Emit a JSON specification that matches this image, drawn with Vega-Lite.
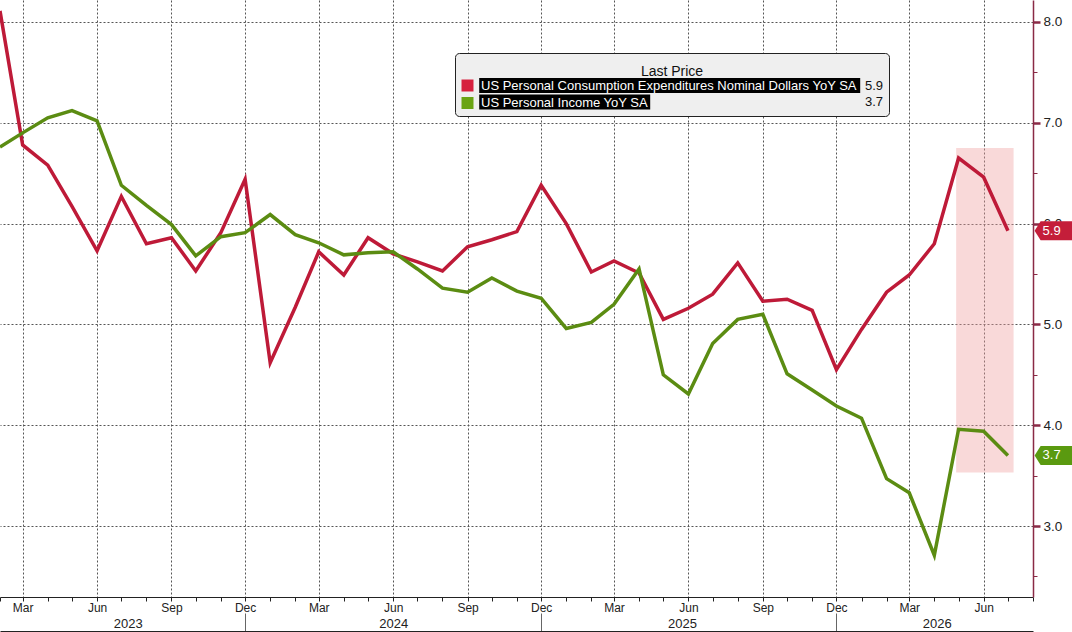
{
  "$schema": "https://vega.github.io/schema/vega-lite/v6.json",
  "width": 1033,
  "height": 597,
  "autosize": {"type": "none"},
  "padding": {"left": 0, "top": 0, "right": 39, "bottom": 35},
  "background": "white",
  "config": {"view": {"stroke": null}, "font": "Liberation Sans"},
  "datasets": {
    "main": [
      {"d": "2023/02/01", "s": "PCE", "v": 8.11}, {"d": "2023/03/01", "s": "PCE", "v": 6.78}, {"d": "2023/04/01", "s": "PCE", "v": 6.58}, {"d": "2023/05/01", "s": "PCE", "v": 6.17}, {"d": "2023/06/01", "s": "PCE", "v": 5.73}, {"d": "2023/07/01", "s": "PCE", "v": 6.27}, {"d": "2023/08/01", "s": "PCE", "v": 5.80}, {"d": "2023/09/01", "s": "PCE", "v": 5.86}, {"d": "2023/10/01", "s": "PCE", "v": 5.53}, {"d": "2023/11/01", "s": "PCE", "v": 5.91}, {"d": "2023/12/01", "s": "PCE", "v": 6.44},
      {"d": "2024/01/01", "s": "PCE", "v": 4.62}, {"d": "2024/02/01", "s": "PCE", "v": 5.17}, {"d": "2024/03/01", "s": "PCE", "v": 5.72}, {"d": "2024/04/01", "s": "PCE", "v": 5.49}, {"d": "2024/05/01", "s": "PCE", "v": 5.86}, {"d": "2024/06/01", "s": "PCE", "v": 5.70}, {"d": "2024/07/01", "s": "PCE", "v": 5.62}, {"d": "2024/08/01", "s": "PCE", "v": 5.53}, {"d": "2024/09/01", "s": "PCE", "v": 5.77}, {"d": "2024/10/01", "s": "PCE", "v": 5.84}, {"d": "2024/11/01", "s": "PCE", "v": 5.92}, {"d": "2024/12/01", "s": "PCE", "v": 6.38},
      {"d": "2025/01/01", "s": "PCE", "v": 6.00}, {"d": "2025/02/01", "s": "PCE", "v": 5.52}, {"d": "2025/03/01", "s": "PCE", "v": 5.63}, {"d": "2025/04/01", "s": "PCE", "v": 5.51}, {"d": "2025/05/01", "s": "PCE", "v": 5.05}, {"d": "2025/06/01", "s": "PCE", "v": 5.16}, {"d": "2025/07/01", "s": "PCE", "v": 5.30}, {"d": "2025/08/01", "s": "PCE", "v": 5.61}, {"d": "2025/09/01", "s": "PCE", "v": 5.23}, {"d": "2025/10/01", "s": "PCE", "v": 5.25}, {"d": "2025/11/01", "s": "PCE", "v": 5.14}, {"d": "2025/12/01", "s": "PCE", "v": 4.55},
      {"d": "2026/01/01", "s": "PCE", "v": 4.95}, {"d": "2026/02/01", "s": "PCE", "v": 5.32}, {"d": "2026/03/01", "s": "PCE", "v": 5.49}, {"d": "2026/04/01", "s": "PCE", "v": 5.80}, {"d": "2026/05/01", "s": "PCE", "v": 6.65}, {"d": "2026/06/01", "s": "PCE", "v": 6.46}, {"d": "2026/07/01", "s": "PCE", "v": 5.93},
      {"d": "2023/02/01", "s": "Income", "v": 6.76}, {"d": "2023/03/01", "s": "Income", "v": 6.90}, {"d": "2023/04/01", "s": "Income", "v": 7.05}, {"d": "2023/05/01", "s": "Income", "v": 7.12}, {"d": "2023/06/01", "s": "Income", "v": 7.02}, {"d": "2023/07/01", "s": "Income", "v": 6.38}, {"d": "2023/08/01", "s": "Income", "v": 6.18}, {"d": "2023/09/01", "s": "Income", "v": 5.99}, {"d": "2023/10/01", "s": "Income", "v": 5.68}, {"d": "2023/11/01", "s": "Income", "v": 5.87}, {"d": "2023/12/01", "s": "Income", "v": 5.91},
      {"d": "2024/01/01", "s": "Income", "v": 6.09}, {"d": "2024/02/01", "s": "Income", "v": 5.89}, {"d": "2024/03/01", "s": "Income", "v": 5.81}, {"d": "2024/04/01", "s": "Income", "v": 5.69}, {"d": "2024/05/01", "s": "Income", "v": 5.71}, {"d": "2024/06/01", "s": "Income", "v": 5.72}, {"d": "2024/07/01", "s": "Income", "v": 5.55}, {"d": "2024/08/01", "s": "Income", "v": 5.36}, {"d": "2024/09/01", "s": "Income", "v": 5.32}, {"d": "2024/10/01", "s": "Income", "v": 5.46}, {"d": "2024/11/01", "s": "Income", "v": 5.33}, {"d": "2024/12/01", "s": "Income", "v": 5.26},
      {"d": "2025/01/01", "s": "Income", "v": 4.96}, {"d": "2025/02/01", "s": "Income", "v": 5.02}, {"d": "2025/03/01", "s": "Income", "v": 5.20}, {"d": "2025/04/01", "s": "Income", "v": 5.55}, {"d": "2025/05/01", "s": "Income", "v": 4.50}, {"d": "2025/06/01", "s": "Income", "v": 4.31}, {"d": "2025/07/01", "s": "Income", "v": 4.81}, {"d": "2025/08/01", "s": "Income", "v": 5.05}, {"d": "2025/09/01", "s": "Income", "v": 5.10}, {"d": "2025/10/01", "s": "Income", "v": 4.51}, {"d": "2025/11/01", "s": "Income", "v": 4.35}, {"d": "2025/12/01", "s": "Income", "v": 4.19},
      {"d": "2026/01/01", "s": "Income", "v": 4.07}, {"d": "2026/02/01", "s": "Income", "v": 3.47}, {"d": "2026/03/01", "s": "Income", "v": 3.33}, {"d": "2026/04/01", "s": "Income", "v": 2.71}, {"d": "2026/05/01", "s": "Income", "v": 3.96}, {"d": "2026/06/01", "s": "Income", "v": 3.94}, {"d": "2026/07/01", "s": "Income", "v": 3.70}
    ]
  },
  "resolve": {"axis": {"x": "independent"}},
  "layer": [
    {
      "data": {"values": [{"start": "2026/04/28", "end": "2026/07/08", "top": 6.75, "bottom": 3.53}]},
      "mark": {"type": "rect", "fill": "#f0a0a0", "opacity": 0.4},
      "encoding": {
        "x": {
          "field": "start", "type": "temporal",
          "scale": {"domain": [{"year": 2023, "month": 2, "date": 1}, {"year": 2026, "month": 8, "date": 1}]},
          "axis": {
            "title": null, "orient": "bottom", "offset": 34, "grid": false,
            "values": [
              {"year": 2023, "month": 7, "date": 9}, {"year": 2023, "month": 12, "date": 1},
              {"year": 2024, "month": 6, "date": 1}, {"year": 2024, "month": 12, "date": 1},
              {"year": 2025, "month": 5, "date": 24}, {"year": 2025, "month": 12, "date": 1},
              {"year": 2026, "month": 4, "date": 4}
            ],
            "labelExpr": "month(datum.value) == 11 ? '' : timeFormat(datum.value, '%Y')",
            "domain": true, "domainColor": "#222", "domainWidth": 1,
            "tickSize": -18, "tickColor": "#666", "tickWidth": 1,
            "tickOpacity": {"condition": {"test": "month(datum.value) == 11", "value": 1}, "value": 0},
            "labelPadding": 4, "labelFontSize": 13, "labelFont": "Liberation Sans", "labelColor": "#222",
            "labelOverlap": false, "labelFlush": false, "labelBound": false
          }
        },
        "x2": {"field": "end"},
        "y": {"field": "top", "type": "quantitative", "title": null},
        "y2": {"field": "bottom"}
      }
    },
    {
      "data": {"name": "main"},
      "mark": {"type": "line", "strokeWidth": 3.5, "strokeJoin": "miter"},
      "encoding": {
        "x": {
          "field": "d", "type": "temporal",
          "axis": {
            "title": null, "orient": "bottom",
            "tickCount": {"interval": "month", "step": 1},
            "labelExpr": "month(datum.value) % 3 == 2 ? timeFormat(datum.value, '%b') : ''",
            "tickSize": 4, "tickColor": "#222", "domainColor": "#222",
            "labelFontSize": 12, "labelFont": "Liberation Sans", "labelColor": "#222", "labelPadding": 1,
            "grid": true, "gridColor": "#555", "gridDash": [2, 2],
            "gridOpacity": {"condition": {"test": "month(datum.value) % 3 == 2", "value": 1}, "value": 0},
            "labelOverlap": false, "labelFlush": false, "labelBound": false
          }
        },
        "y": {
          "field": "v", "type": "quantitative", "title": null,
          "scale": {"domain": [2.296, 8.218], "nice": false, "zero": false},
          "axis": {
            "orient": "right",
            "values": [2.5, 3, 3.5, 4, 4.5, 5, 5.5, 6, 6.5, 7, 7.5, 8],
            "labelExpr": "datum.value % 1 == 0 ? format(datum.value, '.1f') : ''",
            "domainColor": "#8a2a46", "domainWidth": 1.5,
            "tickColor": "#8a2a46",
            "tickSize": {"condition": {"test": "datum.value % 1 == 0", "value": 7}, "value": 4},
            "tickWidth": {"condition": {"test": "datum.value % 1 == 0", "value": 2.5}, "value": 1},
            "labelPadding": 3, "labelFontSize": 13.5, "labelFont": "Liberation Sans", "labelColor": "#222",
            "grid": true, "gridColor": "#555", "gridDash": [2, 2],
            "gridOpacity": {"condition": {"test": "datum.value % 1 == 0", "value": 1}, "value": 0},
            "labelOverlap": false, "labelFlush": false, "labelBound": false
          }
        },
        "stroke": {
          "field": "s", "type": "nominal",
          "scale": {"domain": ["Income", "PCE"], "range": ["#5b8c12", "#be1a38"]},
          "legend": null
        }
      }
    },
    {
      "data": {"values": [{"s": "PCE", "last": "5.9"}, {"s": "Income", "last": "3.7"}]},
      "transform": [{"filter": "false"}],
      "mark": {"type": "point", "filled": true, "color": "black", "opacity": 1},
      "encoding": {
        "shape": {
          "field": "last", "type": "nominal",
          "scale": {"domain": ["5.9", "3.7"], "range": ["M11.7,-7.5H392.7V7.5H11.7Z", "M11.7,-7.5H182.7V7.5H11.7Z"]},
          "legend": {
            "orient": "none", "legendX": 455, "legendY": 53, "padding": 6,
            "title": ["", "Last Price"], "titleFont": "Liberation Sans", "titleFontSize": 14, "titleFontWeight": "normal",
            "titleColor": "#111", "titleAnchor": "middle", "titleLineHeight": 6, "titlePadding": 0,
            "symbolSize": 4, "symbolFillColor": "black", "symbolStrokeColor": "black", "symbolStrokeWidth": 0, "symbolOpacity": 1,
            "labelAlign": "right", "labelOffset": 409,
            "labelFont": "Liberation Sans", "labelFontSize": 13, "labelColor": "#111",
            "rowPadding": 1.5,
            "fillColor": "#efefef", "strokeColor": "#222", "cornerRadius": 4,
            "zindex": 1
          }
        }
      }
    },
    {
      "data": {"name": "main"},
      "transform": [{"filter": "datum.v > 100"}],
      "mark": {"type": "point", "shape": "square", "filled": true, "opacity": 1},
      "encoding": {
        "x": {"field": "d", "type": "temporal", "axis": null},
        "y": {"field": "v", "type": "quantitative", "title": null},
        "fill": {
          "field": "s", "type": "nominal",
          "scale": {"domain": ["PCE", "Income"], "range": ["#d6203e", "#6aa414"]},
          "legend": {
            "orient": "none", "legendX": 455, "legendY": 53, "padding": 6,
            "title": ["", " "], "titleFont": "Liberation Sans", "titleFontSize": 14, "titleFontWeight": "normal",
            "titleOpacity": 0, "titleAnchor": "middle", "titleLineHeight": 6, "titlePadding": 0,
            "symbolType": "square", "symbolSize": 144, "symbolStrokeWidth": 0, "symbolOpacity": 1,
            "labelExpr": "datum.label == 'PCE' ? 'US Personal Consumption Expenditures Nominal Dollars YoY SA' : 'US Personal Income YoY SA'",
            "labelFont": "Liberation Sans", "labelFontSize": 13, "labelColor": "white", "labelLimit": 600, "labelOffset": 7,
            "rowPadding": 3.5,
            "zindex": 2
          }
        }
      }
    },
    {
      "data": {"name": "main"},
      "transform": [{"filter": "month(datum.d) == 6 && year(datum.d) == 2026"}],
      "mark": {"type": "point", "shape": "M-17,0L-11,-9.5L21,-9.5L21,9.5L-11,9.5Z", "size": 4, "filled": true, "opacity": 1, "clip": false},
      "encoding": {
        "x": {"datum": {"year": 2026, "month": 8, "date": 24}, "type": "temporal", "axis": null},
        "y": {"field": "v", "type": "quantitative", "title": null},
        "fill": {"condition": {"test": "datum.s == 'PCE'", "value": "#c41e3a"}, "value": "#5a9a10"}
      }
    },
    {
      "data": {"name": "main"},
      "transform": [{"filter": "month(datum.d) == 6 && year(datum.d) == 2026"}],
      "mark": {"type": "text", "color": "white", "font": "Liberation Sans", "fontSize": 13, "align": "center", "baseline": "middle", "clip": false},
      "encoding": {
        "x": {"datum": {"year": 2026, "month": 8, "date": 24}, "type": "temporal", "axis": null},
        "y": {"field": "v", "type": "quantitative", "title": null},
        "text": {"field": "v", "type": "quantitative", "format": ".1f"}
      }
    }
  ]
}
